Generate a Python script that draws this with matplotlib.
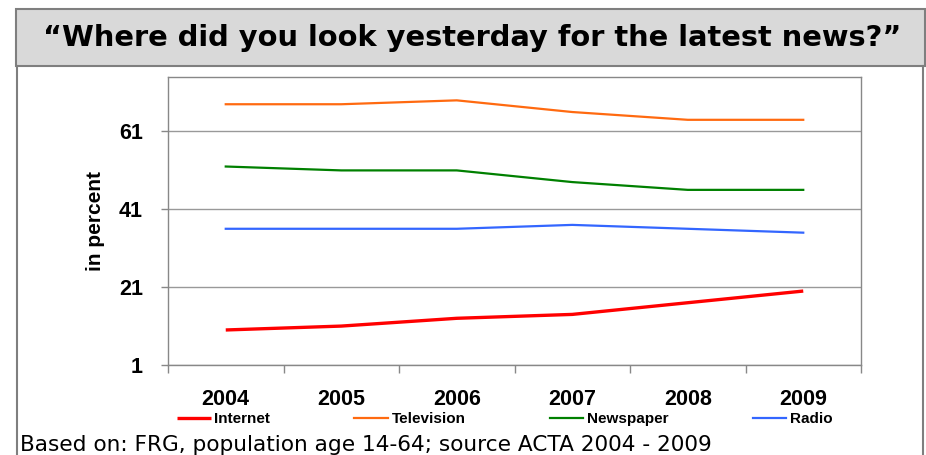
import numpy as np
import matplotlib
matplotlib.use("Agg")
import matplotlib.pyplot as plt
from matplotlib.patches import Rectangle
from matplotlib.lines import Line2D

years = ["2004", "2005", "2006", "2007", "2008", "2009"]
internet = [10, 11, 13, 14, 17, 20]
television = [68, 68, 69, 66, 64, 64]
newspaper = [52, 51, 51, 48, 46, 46]
radio = [36, 36, 36, 37, 36, 35]
yticks = [1, 21, 41, 61]

plt.rcParams['font.family'] = ['Liberation Sans', 'DejaVu Sans']

fig = plt.figure(figsize=(9.26, 4.55), dpi=100)
W, H = 926.0, 455.0

# title box and frame
fig.patches.append(Rectangle((16 / W, 1 - 66 / H), 909 / W, 57 / H,
                             transform=fig.transFigure, facecolor='#D9D9D9',
                             edgecolor='#7F7F7F', lw=1.5, zorder=0))
fig.lines.append(Line2D([17 / W, 17 / W], [0, 1 - 66 / H], transform=fig.transFigure,
                        color='#7F7F7F', lw=1.5))
fig.lines.append(Line2D([923 / W, 923 / W], [0, 1 - 66 / H], transform=fig.transFigure,
                        color='#7F7F7F', lw=1.5))
fig.text(472 / W, 1 - 38 / H, "\u201cWhere did you look yesterday for the latest news?\u201d",
         ha='center', va='center', fontsize=20.8, fontweight='bold',
         family='DejaVu Sans')

ax = fig.add_axes([168 / W, 90 / H, 693 / W, 288 / H])
x = np.arange(len(years))
l1, = ax.plot(x, internet, color='#FF0000', lw=2.4, solid_capstyle='butt', zorder=5)
l2, = ax.plot(x, television, color='#FF6A10', lw=1.6, zorder=4)
l3, = ax.plot(x, newspaper, color='#008000', lw=1.6, zorder=4)
l4, = ax.plot(x, radio, color='#3366FF', lw=1.6, zorder=4)

ax.set_xlim(-0.5, len(years) - 0.5)
ax.set_ylim(1, 75)
ax.set_yticks(yticks)
ax.set_yticklabels([str(v) for v in yticks], fontsize=15.5, fontweight='bold')
ax.set_xticks(np.arange(-0.5, len(years), 1.0))
ax.set_xticklabels([])
ax.set_xticks(x, minor=True)
ax.set_xticklabels(years, minor=True, fontsize=15.5, fontweight='bold')
ax.tick_params(axis='x', which='major', length=6, color='#888888', width=1)
ax.tick_params(axis='x', which='minor', length=0, pad=17)
ax.tick_params(axis='y', length=5, color='#888888', width=1, pad=13)
ax.grid(axis='y', color='#999999', lw=1)
ax.set_axisbelow(True)
for s in ax.spines.values():
    s.set_color('#888888')
    s.set_linewidth(1)
ax.set_ylabel("in percent", fontsize=15, fontweight='bold', labelpad=10)

fig.legend([l1, l2, l3, l4], ["Internet", "Television", "Newspaper", "Radio"],
           loc='center left', bbox_to_anchor=(177 / W, 1 - 419 / H), ncol=4,
           frameon=False, handlelength=2.2, handletextpad=0.25,
           columnspacing=5.5, borderpad=0, borderaxespad=0,
           prop={'weight': 'bold', 'size': 11})

fig.text(20 / W, 1 - 445 / H, "Based on: FRG, population age 14-64; source ACTA 2004 - 2009",
         ha='left', va='center', fontsize=15.6, family='DejaVu Sans')

fig.savefig("out.png", dpi=100)
